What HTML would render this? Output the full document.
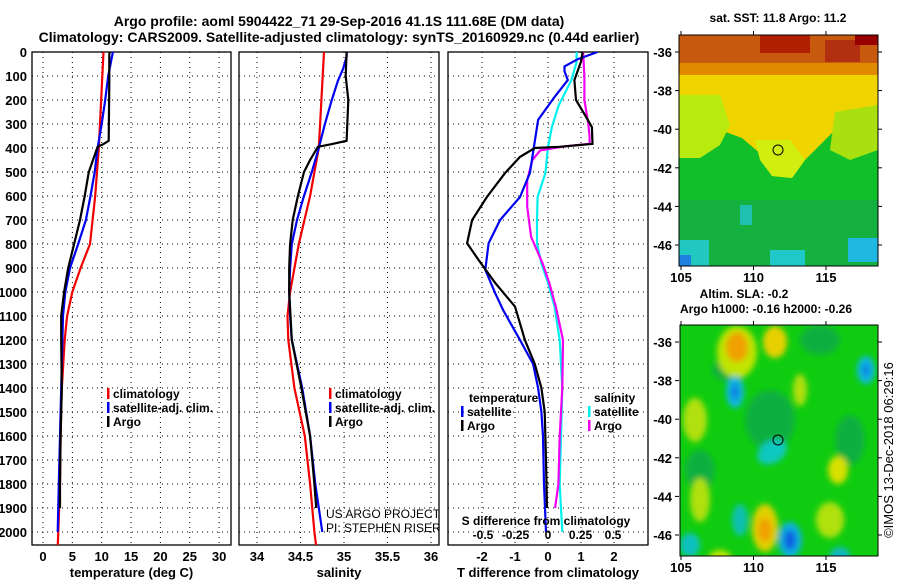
<!DOCTYPE html>
<html><head><meta charset="utf-8"><style>
body{margin:0;background:#fff;}
svg text{font-family:"Liberation Sans",sans-serif;}
.b{font-weight:bold;}
</style></head><body>
<svg id="chart" width="900" height="580" viewBox="0 0 900 580" xmlns="http://www.w3.org/2000/svg">
<defs>
<filter id="blur" x="-50%" y="-50%" width="200%" height="200%"><feGaussianBlur stdDeviation="3"/></filter>
<clipPath id="c1"><rect x="32" y="52" width="199" height="493"/></clipPath>
<clipPath id="c2"><rect x="239" y="52" width="200" height="493"/></clipPath>
<clipPath id="c3"><rect x="448" y="52" width="200" height="493"/></clipPath>
<clipPath id="m1"><rect x="679" y="35" width="199" height="231"/></clipPath>
<clipPath id="m2"><rect x="680" y="325" width="198" height="231"/></clipPath>
</defs>
<text class="b" x="339" y="26" text-anchor="middle" font-size="14">Argo profile: aoml 5904422_71 29-Sep-2016 41.1S 111.68E (DM data)</text>
<text class="b" x="339" y="42" text-anchor="middle" font-size="14">Climatology: CARS2009. Satellite-adjusted climatology: synTS_20160929.nc (0.44d earlier)</text>
<g id="g1"></g>
<g id="g2"></g>
<g id="g3"></g>

<!-- SST map -->
<text class="b" x="778" y="22" text-anchor="middle" font-size="12">sat. SST: 11.8 Argo: 11.2</text>
<g clip-path="url(#m1)">
<rect x="679" y="35" width="199" height="231" fill="#10bf2a"/>
<rect x="679" y="200" width="199" height="66" fill="#14b040"/>
<rect x="679" y="35" width="199" height="42" fill="#e08a00"/>
<rect x="679" y="35" width="199" height="28" fill="#c85a10"/>
<rect x="760" y="35" width="50" height="18" fill="#b02000"/>
<rect x="825" y="40" width="35" height="22" fill="#b03010"/>
<rect x="855" y="35" width="23" height="10" fill="#980000"/>
<polygon points="679,75 878,75 878,110 850,115 825,140 805,160 792,178 772,176 762,155 742,138 720,130 679,120" fill="#f0d400"/>
<polygon points="679,95 720,95 730,125 720,145 700,158 679,158" fill="#b8ea10"/>
<polygon points="835,112 878,105 878,150 850,160 830,150" fill="#a8e010"/>
<polygon points="755,140 790,140 805,160 792,178 772,176 760,160" fill="#d0ee10"/>
<rect x="679" y="240" width="30" height="26" fill="#20c8c0"/>
<rect x="679" y="255" width="12" height="11" fill="#2080e0"/>
<rect x="770" y="250" width="35" height="16" fill="#20c8c8"/>
<rect x="848" y="238" width="30" height="24" fill="#20b8e0"/>
<rect x="740" y="205" width="12" height="20" fill="#20c0b0"/>
</g>
<rect x="679" y="35" width="199" height="231" fill="none" stroke="#000"/>
<circle cx="778" cy="150" r="5" fill="none" stroke="#000"/>

<!-- SLA map -->
<text class="b" x="744" y="298" text-anchor="middle" font-size="12">Altim. SLA: -0.2</text>
<text class="b" x="766" y="313" text-anchor="middle" font-size="12">Argo h1000: -0.16 h2000: -0.26</text>
<g clip-path="url(#m2)">
<rect x="680" y="325" width="198" height="231" fill="#10cc10"/>
<g filter="url(#blur)">
<ellipse cx="730" cy="370" rx="18" ry="12" fill="#10b040"/>
<ellipse cx="770" cy="420" rx="25" ry="30" fill="#10b040"/>
<ellipse cx="850" cy="440" rx="15" ry="25" fill="#10b040"/>
<ellipse cx="700" cy="470" rx="15" ry="20" fill="#10b040"/>
<ellipse cx="820" cy="340" rx="20" ry="15" fill="#10b040"/>
<ellipse cx="737" cy="352" rx="20" ry="26" fill="#c0e400"/>
<ellipse cx="737" cy="347" rx="11" ry="15" fill="#f0a000"/>
<ellipse cx="775" cy="342" rx="12" ry="16" fill="#e8d000"/>
<ellipse cx="735" cy="392" rx="9" ry="16" fill="#10b8e0"/>
<ellipse cx="735" cy="392" rx="4" ry="8" fill="#1080e0"/>
<ellipse cx="866" cy="370" rx="9" ry="14" fill="#10b8e0"/>
<ellipse cx="866" cy="370" rx="4" ry="6" fill="#1080e0"/>
<ellipse cx="772" cy="452" rx="16" ry="11" fill="#10c8c0" transform="rotate(-30 772 452)"/>
<ellipse cx="790" cy="540" rx="12" ry="18" fill="#10b0e0"/>
<ellipse cx="790" cy="540" rx="6" ry="10" fill="#1060e0"/>
<ellipse cx="765" cy="528" rx="13" ry="24" fill="#e0d000"/>
<ellipse cx="765" cy="530" rx="7" ry="12" fill="#f0a000"/>
<ellipse cx="740" cy="520" rx="8" ry="16" fill="#10c0b0"/>
<ellipse cx="690" cy="545" rx="10" ry="12" fill="#10c0c0"/>
<ellipse cx="695" cy="420" rx="12" ry="22" fill="#b0e010"/>
<ellipse cx="838" cy="470" rx="10" ry="14" fill="#d8e000"/>
<ellipse cx="830" cy="520" rx="14" ry="18" fill="#b0e010"/>
<ellipse cx="700" cy="500" rx="10" ry="22" fill="#b0e010"/>
<ellipse cx="800" cy="390" rx="7" ry="16" fill="#b0e010"/>
<ellipse cx="720" cy="560" rx="12" ry="10" fill="#c0e400"/>
<ellipse cx="840" cy="555" rx="10" ry="8" fill="#10b8c0"/>
</g>
</g>
<rect x="680" y="325" width="198" height="231" fill="none" stroke="#000"/>
<circle cx="778" cy="440" r="5" fill="none" stroke="#000"/>
<text x="893" y="450" font-size="13" text-anchor="middle" transform="rotate(-90 893 450)">©IMOS 13-Dec-2018 06:29:16</text>
<g id="mapaxes"></g>
</svg>
<script>
// ---- data ----
const depths_tClim = [0,400,600,800,900,1000,1100,1200,1400,1600,1800,2000,2060];
const tClim =        [10.3,9.5,8.9,8.0,6.4,5.0,4.1,3.7,3.2,3.0,2.9,2.6,2.5];
const depths_tSat = [0,100,200,300,400,500,600,700,800,900,1000,1100,1400,1600,1800,2000];
const tSat =        [11.9,11.1,10.6,10.0,9.3,8.8,8.1,7.3,6.0,4.6,3.8,3.4,3.1,2.9,2.7,2.5];
const depths_tArgo = [0,10,120,370,385,395,500,600,700,800,900,1000,1100,1200,1400,1600,1800,1900];
const tArgo =        [11.4,11.3,11.3,11.2,10.2,9.3,7.8,7.1,6.3,5.3,4.3,3.6,3.1,3.1,3.2,3.0,2.9,2.9];

const depths_sClim = [0,400,600,800,1000,1100,1200,1400,1600,1800,2000,2060];
const sClim =        [34.77,34.71,34.61,34.48,34.38,34.35,34.36,34.43,34.55,34.61,34.66,34.68];
const depths_sSat = [0,20,70,120,200,300,400,500,600,700,800,900,1000,1100,1200,1400,1600,1800,2000];
const sSat =        [35.03,35.03,34.99,34.93,34.86,34.78,34.71,34.63,34.54,34.46,34.40,34.38,34.37,34.38,34.40,34.52,34.61,34.67,34.75];
const depths_sArgo = [0,100,200,370,385,395,450,500,600,700,800,900,1000,1200,1400,1600,1800,1900];
const sArgo =        [35.03,35.02,35.05,35.03,34.84,34.70,34.61,34.54,34.47,34.41,34.38,34.37,34.37,34.40,34.51,34.61,34.66,34.68];

const depths_dtSat = [0,30,60,80,117,187,283,504,604,700,797,908,1005,1075,1200,1300,1400,1500,1600,1800,2000];
const dtSat =        [1.5,0.9,0.5,0.5,0.6,0.2,-0.3,-0.55,-0.85,-1.45,-1.8,-1.9,-1.6,-1.36,-0.85,-0.45,-0.3,-0.2,-0.15,-0.12,-0.06];
const depths_dtArgo = [0,40,117,200,258,313,383,395,400,437,504,604,700,797,867,962,1061,1200,1300,1400,1500,1700,1900];
const dtArgo =        [1.05,1.0,0.8,0.85,1.1,1.33,1.35,0.35,-0.4,-0.85,-1.3,-1.85,-2.3,-2.45,-2.1,-1.6,-1.0,-0.7,-0.4,-0.2,-0.1,-0.06,-0.03];
const depths_dsSat = [0,42,117,225,313,396,504,604,700,797,883,962,1061,1200,1400,1600,1800,2000];
const dsSat =        [0.22,0.22,0.18,0.08,0.03,0.0,-0.02,-0.08,-0.085,-0.085,-0.05,0.0,0.05,0.09,0.11,0.10,0.09,0.11];
const depths_dsArgo = [0,100,200,300,353,383,393,410,450,535,644,770,883,962,1061,1200,1400,1600,1800,1900];
const dsArgo =        [0.27,0.28,0.28,0.31,0.32,0.32,0.13,-0.06,-0.12,-0.16,-0.16,-0.13,-0.04,0.01,0.06,0.115,0.11,0.09,0.08,0.055];

const depthTicks = [0,100,200,300,400,500,600,700,800,900,1000,1100,1200,1300,1400,1500,1600,1700,1800,1900,2000];
const tTicks = [0,5,10,15,20,25,30];
const sTicks = [34,34.5,35,35.5,36];
const sTickLabels = ["34","34.5","35","35.5","36"];
const dtTicks = [-2,-1,0,1,2];
const dsTicks = [-0.5,-0.25,0,0.25,0.5];
const dsTickLabels = ["-0.5","-0.25","0","0.25","0.5"];
const lonTicks = [105,110,115];
const latTicks = [-36,-38,-40,-42,-44,-46];

// ---- scales ----
const yD = d => 52 + d*0.24;
const xT = v => 43 + v*5.87;
const xS = v => 257 + (v-34)*87;
const xDT = v => 548 + v*33;
const xDS = v => 548 + v*130;
const NS = "http://www.w3.org/2000/svg";
function mk(tag, attrs, parent){const e=document.createElementNS(NS,tag);for(const k in attrs)e.setAttribute(k,attrs[k]);parent.appendChild(e);return e;}
function txt(parent,x,y,s,size,anchor,bold){const t=mk('text',{x:x,y:y,'font-size':size,'text-anchor':anchor},parent);if(bold)t.setAttribute('font-weight','bold');t.textContent=s;return t;}

function panel(g, x0, x1, clip, xs, ticks, labels, xlabel){
  for(const d of depthTicks){ if(d>0){const l=mk('line',{x1:x0,x2:x1,y1:yD(d),y2:yD(d),stroke:'#000','stroke-dasharray':'1,4'},g);
    
    }}
  ticks.forEach((t,i)=>{
    const l=mk('line',{x1:xs(t),x2:xs(t),y1:52,y2:545,stroke:'#000','stroke-dasharray':'1,4'},g);
    
    
    if(labels){const tl=txt(g,xs(t),561,labels[i],13,'middle',true);
    
    }
  });
  const r=mk('rect',{x:x0,y:52,width:x1-x0,height:493,fill:'none',stroke:'#000','stroke-width':1.3},g);
  
  
  const xl=txt(g,(x0+x1)/2,577,xlabel,13,'middle',true);
  
  
}
function series(g, clip, xs, depths, vals, color, name){
  const pts=depths.map((d,i)=>xs(vals[i]).toFixed(1)+','+yD(d).toFixed(1)).join(' ');
  const p=mk('polyline',{points:pts,fill:'none',stroke:color,'stroke-width':2.2,'clip-path':'url(#'+clip+')'},g);
  
  
}
function legend(g,x,y,color,label,name){
  const m=mk('rect',{x:x,y:y-10,width:2.5,height:11,fill:color},g);
  
  
  const t=txt(g,x+6,y,label,12,'start',true);
  
  
}

const g1=document.getElementById('g1'), g2=document.getElementById('g2'), g3=document.getElementById('g3');
panel(g1,32,231,'c1',xT,tTicks,tTicks.map(String),'temperature (deg C)');
for(const d of depthTicks){const t=txt(g1,27,yD(d)+5,String(d),13,'end',true);
  
  }
series(g1,'c1',xT,depths_tClim,tClim,'#f00000','temp-climatology-line');
series(g1,'c1',xT,depths_tSat,tSat,'#0000f0','temp-satellite-line');
series(g1,'c1',xT,depths_tArgo,tArgo,'#000','temp-argo-line');
legend(g1,107,398,'#f00000','climatology','legend-climatology');
legend(g1,107,412,'#0000f0','satellite-adj. clim.','legend-satellite');
legend(g1,107,426,'#000','Argo','legend-argo');

panel(g2,239,439,'c2',xS,sTicks,sTickLabels,'salinity');
series(g2,'c2',xS,depths_sClim,sClim,'#f00000','sal-climatology-line');
series(g2,'c2',xS,depths_sSat,sSat,'#0000f0','sal-satellite-line');
series(g2,'c2',xS,depths_sArgo,sArgo,'#000','sal-argo-line');
legend(g2,329,398,'#f00000','climatology','legend-climatology-2');
legend(g2,329,412,'#0000f0','satellite-adj. clim.','legend-satellite-2');
legend(g2,329,426,'#000','Argo','legend-argo-2');
const ca=mk('g',{'clip-path':'url(#c2)'},g2);
const u1=txt(ca,326,518,'US ARGO PROJECT',12,'start',false);


const u2=txt(ca,326,532,'PI: STEPHEN RISER',12,'start',false);



panel(g3,448,648,'c3',xDT,dtTicks,dtTicks.map(String),'T difference from climatology');
series(g3,'c3',xDS,depths_dsSat,dsSat,'#00f0f0','dsal-satellite-line');
series(g3,'c3',xDS,depths_dsArgo,dsArgo,'#f000f0','dsal-argo-line');
series(g3,'c3',xDT,depths_dtSat,dtSat,'#0000f0','dtemp-satellite-line');
series(g3,'c3',xDT,depths_dtArgo,dtArgo,'#000','dtemp-argo-line');
const lt=txt(g3,469,402,'temperature',12,'start',true);


legend(g3,461,416,'#0000f0','satellite','legend-t-satellite');
legend(g3,461,430,'#000','Argo','legend-t-argo');
const ls=txt(g3,594,402,'salinity',12,'start',true);


legend(g3,588,416,'#00f0f0','satellite','legend-s-satellite');
legend(g3,588,430,'#f000f0','Argo','legend-s-argo');
const st=txt(g3,546,525,'S difference from climatology',12,'middle',true);


dsTicks.forEach((t,i)=>{const tl=txt(g3,xDS(t),539,dsTickLabels[i],12,'middle',true);
  
  });

// map axes
const ma=document.getElementById('mapaxes');
const lonX = v => 681 + (v-105)*14.5;
const lat1 = v => 52 + (-36 - v)*19.3;
const lat2 = v => 342 + (-36 - v)*19.3;
[[lat1,35,266],[lat2,325,556]].forEach(([ly,top,bot])=>{
  for(const la of latTicks){
    const y=ly(la);
    mk('line',{x1:675,x2:679,y1:y,y2:y,stroke:'#000'},ma);
    mk('line',{x1:878,x2:882,y1:y,y2:y,stroke:'#000'},ma);
    const t=txt(ma,672,y+5,String(la),13,'end',true);
    
    
  }
  for(const lo of lonTicks){
    const x=lonX(lo);
    mk('line',{x1:x,x2:x,y1:top-4,y2:top,stroke:'#000'},ma);
    mk('line',{x1:x,x2:x,y1:bot,y2:bot+4,stroke:'#000'},ma);
    const t=txt(ma,x,bot+16,String(lo),13,'middle',true);
    
    
  }
});
</script>
</body></html>
